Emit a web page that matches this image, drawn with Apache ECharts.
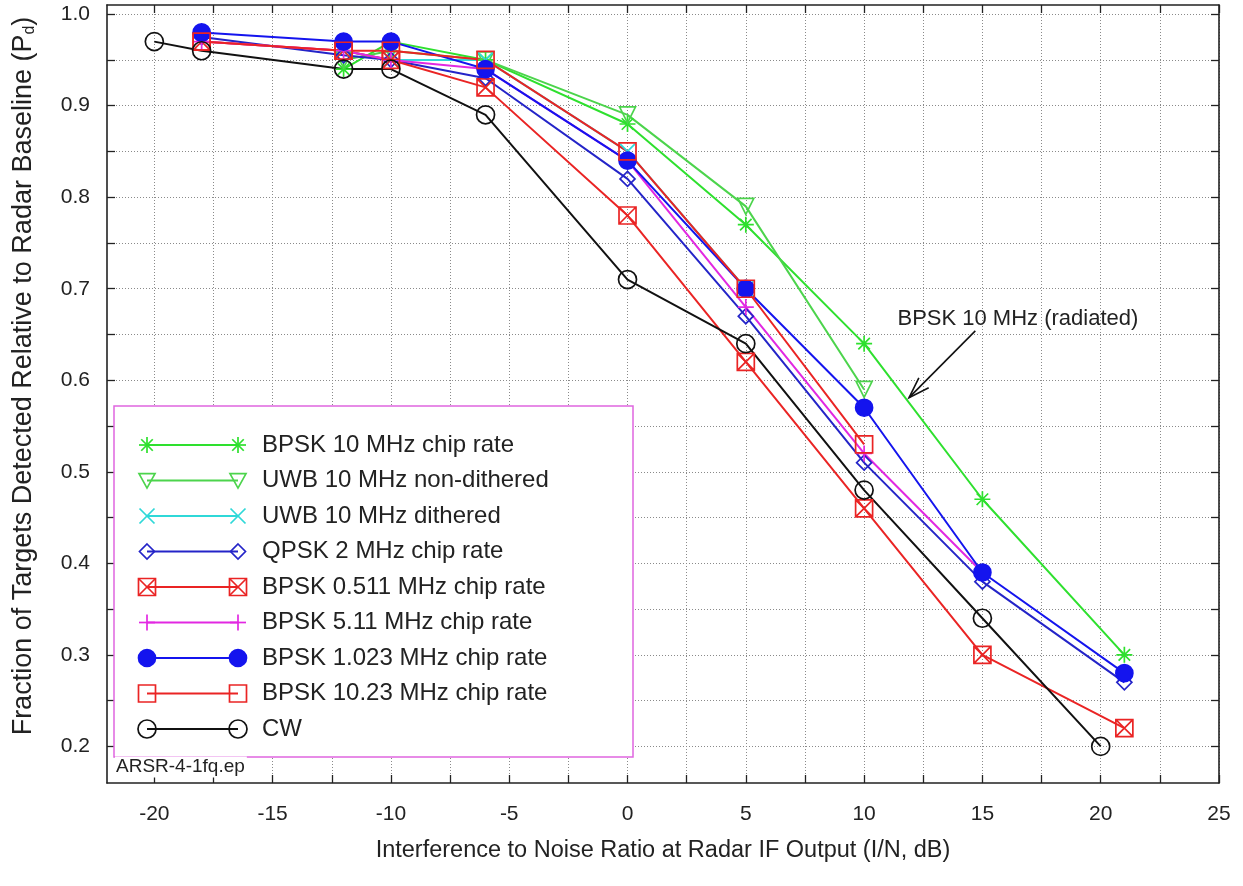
<!DOCTYPE html>
<html>
<head>
<meta charset="utf-8">
<script src="https://cdn.jsdelivr.net/npm/echarts@6/dist/echarts.min.js"></script>
<style>
  html, body { margin: 0; padding: 0; background: #fff; }
  #chart { width: 1243px; height: 886px; }
</style>
</head>
<body>
<div id="chart"></div>
<script>
// tick positions and labels
var xTicks = [-20, -17.5, -15, -12.5, -10, -7.5, -5, -2.5, 0, 2.5, 5, 7.5, 10, 12.5, 15, 17.5, 20, 22.5, 25];
var xLabels = [-20, -15, -10, -5, 0, 5, 10, 15, 20, 25];
var yTicks = [0.2, 0.25, 0.3, 0.35, 0.4, 0.45, 0.5, 0.55, 0.6, 0.65, 0.7, 0.75, 0.8, 0.85, 0.9, 0.95, 1.0];
var yLabels = [0.2, 0.3, 0.4, 0.5, 0.6, 0.7, 0.8, 0.9, 1.0];

// [I/N dB, Pd fraction]
var bpsk10 = [[-12, 0.94], [-10, 0.97], [-6, 0.95], [0, 0.88], [5, 0.77], [10, 0.64], [15, 0.47], [21, 0.30]];
var uwbNonDith = [[-12, 0.95], [-10, 0.96], [-6, 0.95], [0, 0.89], [5, 0.79], [10, 0.59]];
var uwbDith = [[-12, 0.96], [-10, 0.95], [-6, 0.95], [0, 0.85], [5, 0.70]];
var qpsk2 = [[-18, 0.975], [-12, 0.955], [-10, 0.95], [-6, 0.93], [0, 0.82], [5, 0.67], [10, 0.51], [15, 0.38], [21, 0.27]];
var bpsk0511 = [[-18, 0.97], [-12, 0.96], [-10, 0.95], [-6, 0.92], [0, 0.78], [5, 0.62], [10, 0.46], [15, 0.30], [21, 0.22]];
var bpsk511 = [[-18, 0.97], [-12, 0.96], [-10, 0.95], [-6, 0.94], [0, 0.84], [5, 0.68], [10, 0.52], [15, 0.39]];
var bpsk1023 = [[-18, 0.98], [-12, 0.97], [-10, 0.97], [-6, 0.94], [0, 0.84], [5, 0.70], [10, 0.57], [15, 0.39], [21, 0.28]];
var bpsk1023m = [[-18, 0.97], [-12, 0.96], [-10, 0.96], [-6, 0.95], [0, 0.85], [5, 0.70], [10, 0.53]];
var cw = [[-20, 0.97], [-18, 0.96], [-12, 0.94], [-10, 0.94], [-6, 0.89], [0, 0.71], [5, 0.64], [10, 0.48], [15, 0.34], [20, 0.20]];

var FONT = 'Liberation Sans, Arial, Helvetica, sans-serif';

// marker shapes (unit box -1..1), used as symbols and redrawn in the legend
var MARKERS = {
  star: 'M0,-1L0,1M-1,0L1,0M-0.72,-0.72L0.72,0.72M-0.72,0.72L0.72,-0.72',
  triDown: 'M-1,-0.85L1,-0.85L0,0.95Z',
  cross: 'M-1,-1L1,1M-1,1L1,-1',
  diamond: 'M0,-1L1,0L0,1L-1,0Z',
  boxX: 'M-1,-1L1,-1L1,1L-1,1Z M-1,-1L1,1M-1,1L1,-1',
  plus: 'M0,-1L0,1M-1,0L1,0',
  circle: 'M1,0A1,1,0,1,1,-1,0A1,1,0,1,1,1,0Z',
  square: 'M-1,-1L1,-1L1,1L-1,1Z'
};

var defs = [
  { name: 'BPSK 10 MHz chip rate', data: bpsk10, color: '#2ee02e', marker: 'star', size: 16, fill: false },
  { name: 'UWB 10 MHz non-dithered', data: uwbNonDith, color: '#4cd44c', marker: 'triDown', size: 16, fill: false },
  { name: 'UWB 10 MHz dithered', data: uwbDith, color: '#2fd8d8', marker: 'cross', size: 15, fill: false },
  { name: 'QPSK 2 MHz chip rate', data: qpsk2, color: '#2424c8', marker: 'diamond', size: 15, fill: false },
  { name: 'BPSK 0.511 MHz chip rate', data: bpsk0511, color: '#ea2424', marker: 'boxX', size: 17, fill: false },
  { name: 'BPSK 5.11 MHz chip rate', data: bpsk511, color: '#e228e2', marker: 'plus', size: 16, fill: false },
  { name: 'BPSK 1.023 MHz chip rate', data: bpsk1023, color: '#1414ee', marker: 'circle', size: 17, fill: true },
  { name: 'BPSK 10.23 MHz chip rate', data: bpsk1023m, color: '#ea2424', marker: 'square', size: 17, fill: false },
  { name: 'CW', data: cw, color: '#111111', marker: 'circle', size: 18, fill: false }
];

var gridLine = { show: true, lineStyle: { color: '#8a8a8a', width: 1, type: [1, 2] } };
var border = { show: true, onZero: false, lineStyle: { color: '#222', width: 1.6 } };
var tick = { show: true, inside: true, length: 8, lineStyle: { color: '#222', width: 1.3 } };

var chart = echarts.init(document.getElementById('chart'), null, { renderer: 'canvas' });

chart.setOption({
  animation: false,
  backgroundColor: '#fff',
  textStyle: { fontFamily: FONT },
  grid: { left: 107, right: 24, top: 5, bottom: 103, containLabel: false },
  xAxis: [{
    type: 'value', min: -22, max: 25, position: 'bottom',
    axisLine: border,
    axisTick: Object.assign({ customValues: xTicks }, tick),
    axisLabel: { customValues: xLabels, color: '#222', fontSize: 21, margin: 21, fontFamily: FONT },
    splitLine: gridLine,
    name: 'Interference to Noise Ratio at Radar IF Output (I/N, dB)',
    nameLocation: 'middle', nameGap: 56,
    nameTextStyle: { color: '#222', fontSize: 23.5, fontFamily: FONT }
  }, {
    type: 'value', min: -22, max: 25, position: 'top',
    axisLine: border,
    axisTick: Object.assign({ customValues: xTicks }, tick),
    axisLabel: { show: false },
    splitLine: { show: false }
  }],
  yAxis: [{
    type: 'value', min: 0.16, max: 1.01, position: 'left',
    axisLine: border,
    axisTick: Object.assign({ customValues: yTicks }, tick),
    axisLabel: {
      customValues: yLabels, color: '#222', fontSize: 21, margin: 17, fontFamily: FONT,
      formatter: function (v) { return v.toFixed(1); }
    },
    splitLine: gridLine,
    name: 'Fraction of Targets Detected Relative to Radar Baseline (P{sub|d})',
    nameLocation: 'middle', nameGap: 69,
    nameTextStyle: {
      color: '#222', fontSize: 27, fontFamily: FONT, padding: [0, 0, 0, 36],
      rich: { sub: { fontSize: 16, color: '#222', fontFamily: FONT, verticalAlign: 'bottom', padding: [12, 0, 0, 0] } }
    }
  }, {
    type: 'value', min: 0.16, max: 1.01, position: 'right',
    axisLine: border,
    axisTick: Object.assign({ customValues: yTicks }, tick),
    axisLabel: { show: false },
    splitLine: { show: false }
  }],
  series: defs.map(function (d) {
    return {
      name: d.name,
      type: 'line',
      data: d.data,
      symbol: 'path://' + MARKERS[d.marker],
      symbolSize: d.size,
      showAllSymbol: true,
      lineStyle: { color: d.color, width: 2 },
      itemStyle: { color: d.fill ? d.color : 'rgba(0,0,0,0)', borderColor: d.color, borderWidth: 1.7 },
      emphasis: { disabled: true }
    };
  })
});

// legend marker drawn from graphic primitives
function markerEls(kind, cx, cy, s, color, fill) {
  var r = s / 2;
  var st = { stroke: color, lineWidth: 1.7, fill: fill ? color : null };
  function seg(x1, y1, x2, y2) {
    return { type: 'line', z: 12, shape: { x1: cx + x1 * r, y1: cy + y1 * r, x2: cx + x2 * r, y2: cy + y2 * r }, style: { stroke: color, lineWidth: 1.7 } };
  }
  function poly(pts) {
    return { type: 'polygon', z: 12, shape: { points: pts.map(function (p) { return [cx + p[0] * r, cy + p[1] * r]; }) }, style: st };
  }
  switch (kind) {
    case 'star': return [seg(0, -1, 0, 1), seg(-1, 0, 1, 0), seg(-0.72, -0.72, 0.72, 0.72), seg(-0.72, 0.72, 0.72, -0.72)];
    case 'triDown': return [poly([[-1, -0.85], [1, -0.85], [0, 0.95]])];
    case 'cross': return [seg(-1, -1, 1, 1), seg(-1, 1, 1, -1)];
    case 'diamond': return [poly([[0, -1], [1, 0], [0, 1], [-1, 0]])];
    case 'boxX': return [poly([[-1, -1], [1, -1], [1, 1], [-1, 1]]), seg(-1, -1, 1, 1), seg(-1, 1, 1, -1)];
    case 'plus': return [seg(0, -1, 0, 1), seg(-1, 0, 1, 0)];
    case 'square': return [poly([[-1, -1], [1, -1], [1, 1], [-1, 1]])];
    default: return [{ type: 'circle', z: 12, shape: { cx: cx, cy: cy, r: r }, style: st }];
  }
}

var legendEls = [{
  type: 'rect', z: 10,
  shape: { x: 114, y: 406, width: 519, height: 351 },
  style: { fill: '#fff', stroke: '#e066e0', lineWidth: 1.5 }
}];
defs.forEach(function (d, i) {
  var cy = 445 + i * 35.5;
  legendEls.push({
    type: 'line', z: 11,
    shape: { x1: 147, y1: cy, x2: 238, y2: cy },
    style: { stroke: d.color, lineWidth: 2 }
  });
  [147, 238].forEach(function (cx) {
    legendEls = legendEls.concat(markerEls(d.marker, cx, cy, d.size, d.color, d.fill));
  });
  legendEls.push({
    type: 'text', z: 12, x: 262, y: cy,
    style: { text: d.name, fill: '#222', font: '24px ' + FONT, textVerticalAlign: 'middle' }
  });
});

legendEls.push({
  type: 'text', z: 13, x: 115, y: 767,
  style: {
    text: 'ARSR-4-1fq.ep', fill: '#222', font: '19px ' + FONT, textVerticalAlign: 'middle',
    backgroundColor: '#fff', padding: [1, 2, 1, 1]
  }
});

// annotation arrow, placed in data space
var arrowFrom = chart.convertToPixel({ gridIndex: 0 }, [14.7, 0.654]);
var arrowTo = chart.convertToPixel({ gridIndex: 0 }, [11.9, 0.581]);
var labelAt = chart.convertToPixel({ gridIndex: 0 }, [16.5, 0.667]);
var ang = Math.atan2(arrowTo[1] - arrowFrom[1], arrowTo[0] - arrowFrom[0]);
var headLen = 22, headSpread = 0.32;
var h1 = [arrowTo[0] - headLen * Math.cos(ang - headSpread), arrowTo[1] - headLen * Math.sin(ang - headSpread)];
var h2 = [arrowTo[0] - headLen * Math.cos(ang + headSpread), arrowTo[1] - headLen * Math.sin(ang + headSpread)];

legendEls.push({
  type: 'line', z: 12,
  shape: { x1: arrowFrom[0], y1: arrowFrom[1], x2: arrowTo[0], y2: arrowTo[1] },
  style: { stroke: '#111', lineWidth: 1.6 }
}, {
  type: 'polyline', z: 12,
  shape: { points: [h1, arrowTo, h2] },
  style: { stroke: '#111', lineWidth: 1.6, fill: null }
}, {
  type: 'text', z: 12, x: labelAt[0], y: labelAt[1],
  style: { text: 'BPSK 10 MHz (radiated)', fill: '#222', font: '22px ' + FONT, textAlign: 'center', textVerticalAlign: 'middle' }
});

chart.setOption({ graphic: legendEls });
window.addEventListener('resize', function () { chart.resize(); });
</script>
</body>
</html>
